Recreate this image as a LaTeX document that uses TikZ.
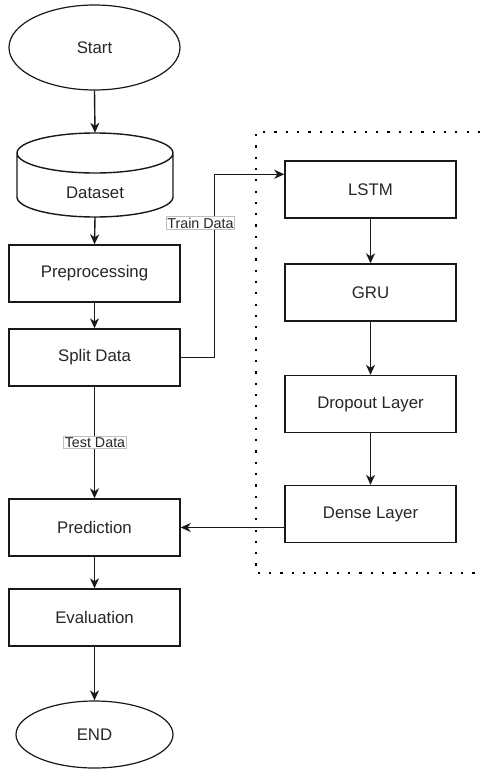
\documentclass[tikz,border=0pt]{standalone}
\usepackage{fontspec}
\setmainfont{Liberation Sans}
\usetikzlibrary{arrows.meta,calc,shapes.geometric}
\begin{document}
\begin{tikzpicture}[x=1pt,y=-1pt,
  every node/.style={text=black!85, font=\fontsize{16.8}{20}\selectfont},
  boxnode/.style={draw=black!90, line width=1.4pt, rectangle, minimum width=171pt, minimum height=57pt, inner sep=0pt},
  ovalnode/.style={draw=black!90, line width=1.2pt, ellipse, inner sep=0pt},
  arr/.style={draw=black!90, line width=1.4pt, -{Stealth[length=10pt,width=9pt,inset=3pt]}},
  plainline/.style={draw=black!90, line width=1.4pt},
  lbl/.style={draw=black!25, line width=0.8pt, fill=white, inner sep=1.2pt, font=\fontsize{14.3}{16}\selectfont},
  dotline/.style={draw=black, line width=2.2pt, dash pattern=on 2.2pt off 9.1pt}
]
\useasboundingbox (0,0) rectangle (480,769);

% dotted group border
\draw[dotline] (480,132) -- (256,132) -- (256,573) -- (480,573);

% left column
\node[ovalnode, minimum width=171pt, minimum height=85pt] (start) at (94.5,47.5) {Start};
\node[minimum width=156pt, minimum height=84pt, inner sep=0pt] (dataset) at (95,175) {};
\draw[draw=black!90, line width=1.4pt]
  (17,153) arc[start angle=180, end angle=360, x radius=78, y radius=-20]
  arc[start angle=0, end angle=180, x radius=78, y radius=-20]
  (17,153) -- (17,197) arc[start angle=180, end angle=360, x radius=78, y radius=-20]
  -- (173,153);
\node at (95,193) {Dataset};
\node[boxnode] (prep) at (94.5,273.5) {Preprocessing};
\node[boxnode] (split) at (94.5,357.5) {Split Data};
\node[boxnode] (pred) at (94.5,527.5) {Prediction};
\node[boxnode] (eval) at (94.5,617.5) {Evaluation};
\node[ovalnode, minimum width=157pt, minimum height=67pt] (finish) at (94.5,734.5) {END};

% right column
\node[boxnode] (lstm) at (370.5,189.5) {LSTM};
\node[boxnode] (gru) at (370.5,292.5) {GRU};
\node[boxnode] (drop) at (370.5,404) {Dropout Layer};
\node[boxnode] (dense) at (370.5,514) {Dense Layer};

% connectors
\draw[arr] (start.south) -- (dataset.north);
\draw[arr] (dataset.south) -- (prep.north);
\draw[arr] (prep.south) -- (split.north);
\draw[arr] (split.south) -- (pred.north);
\draw[arr] (pred.south) -- (eval.north);
\draw[arr] (eval.south) -- (finish.north);
\draw[arr] (split.east) -- ++(34,0) |- ($(lstm.north west)+(0,14)$);
\draw[arr] (lstm.south) -- (gru.north);
\draw[arr] (gru.south) -- (drop.north);
\draw[arr] (drop.south) -- (dense.north);
\draw[arr] (pred.east -| dense.west) -- (pred.east);

% labels
\node[lbl] (trainlbl) at (200.5,223) {Train Data};
\node[lbl] (testlbl) at (95,442.5) {Test Data};
\end{tikzpicture}
\end{document}
